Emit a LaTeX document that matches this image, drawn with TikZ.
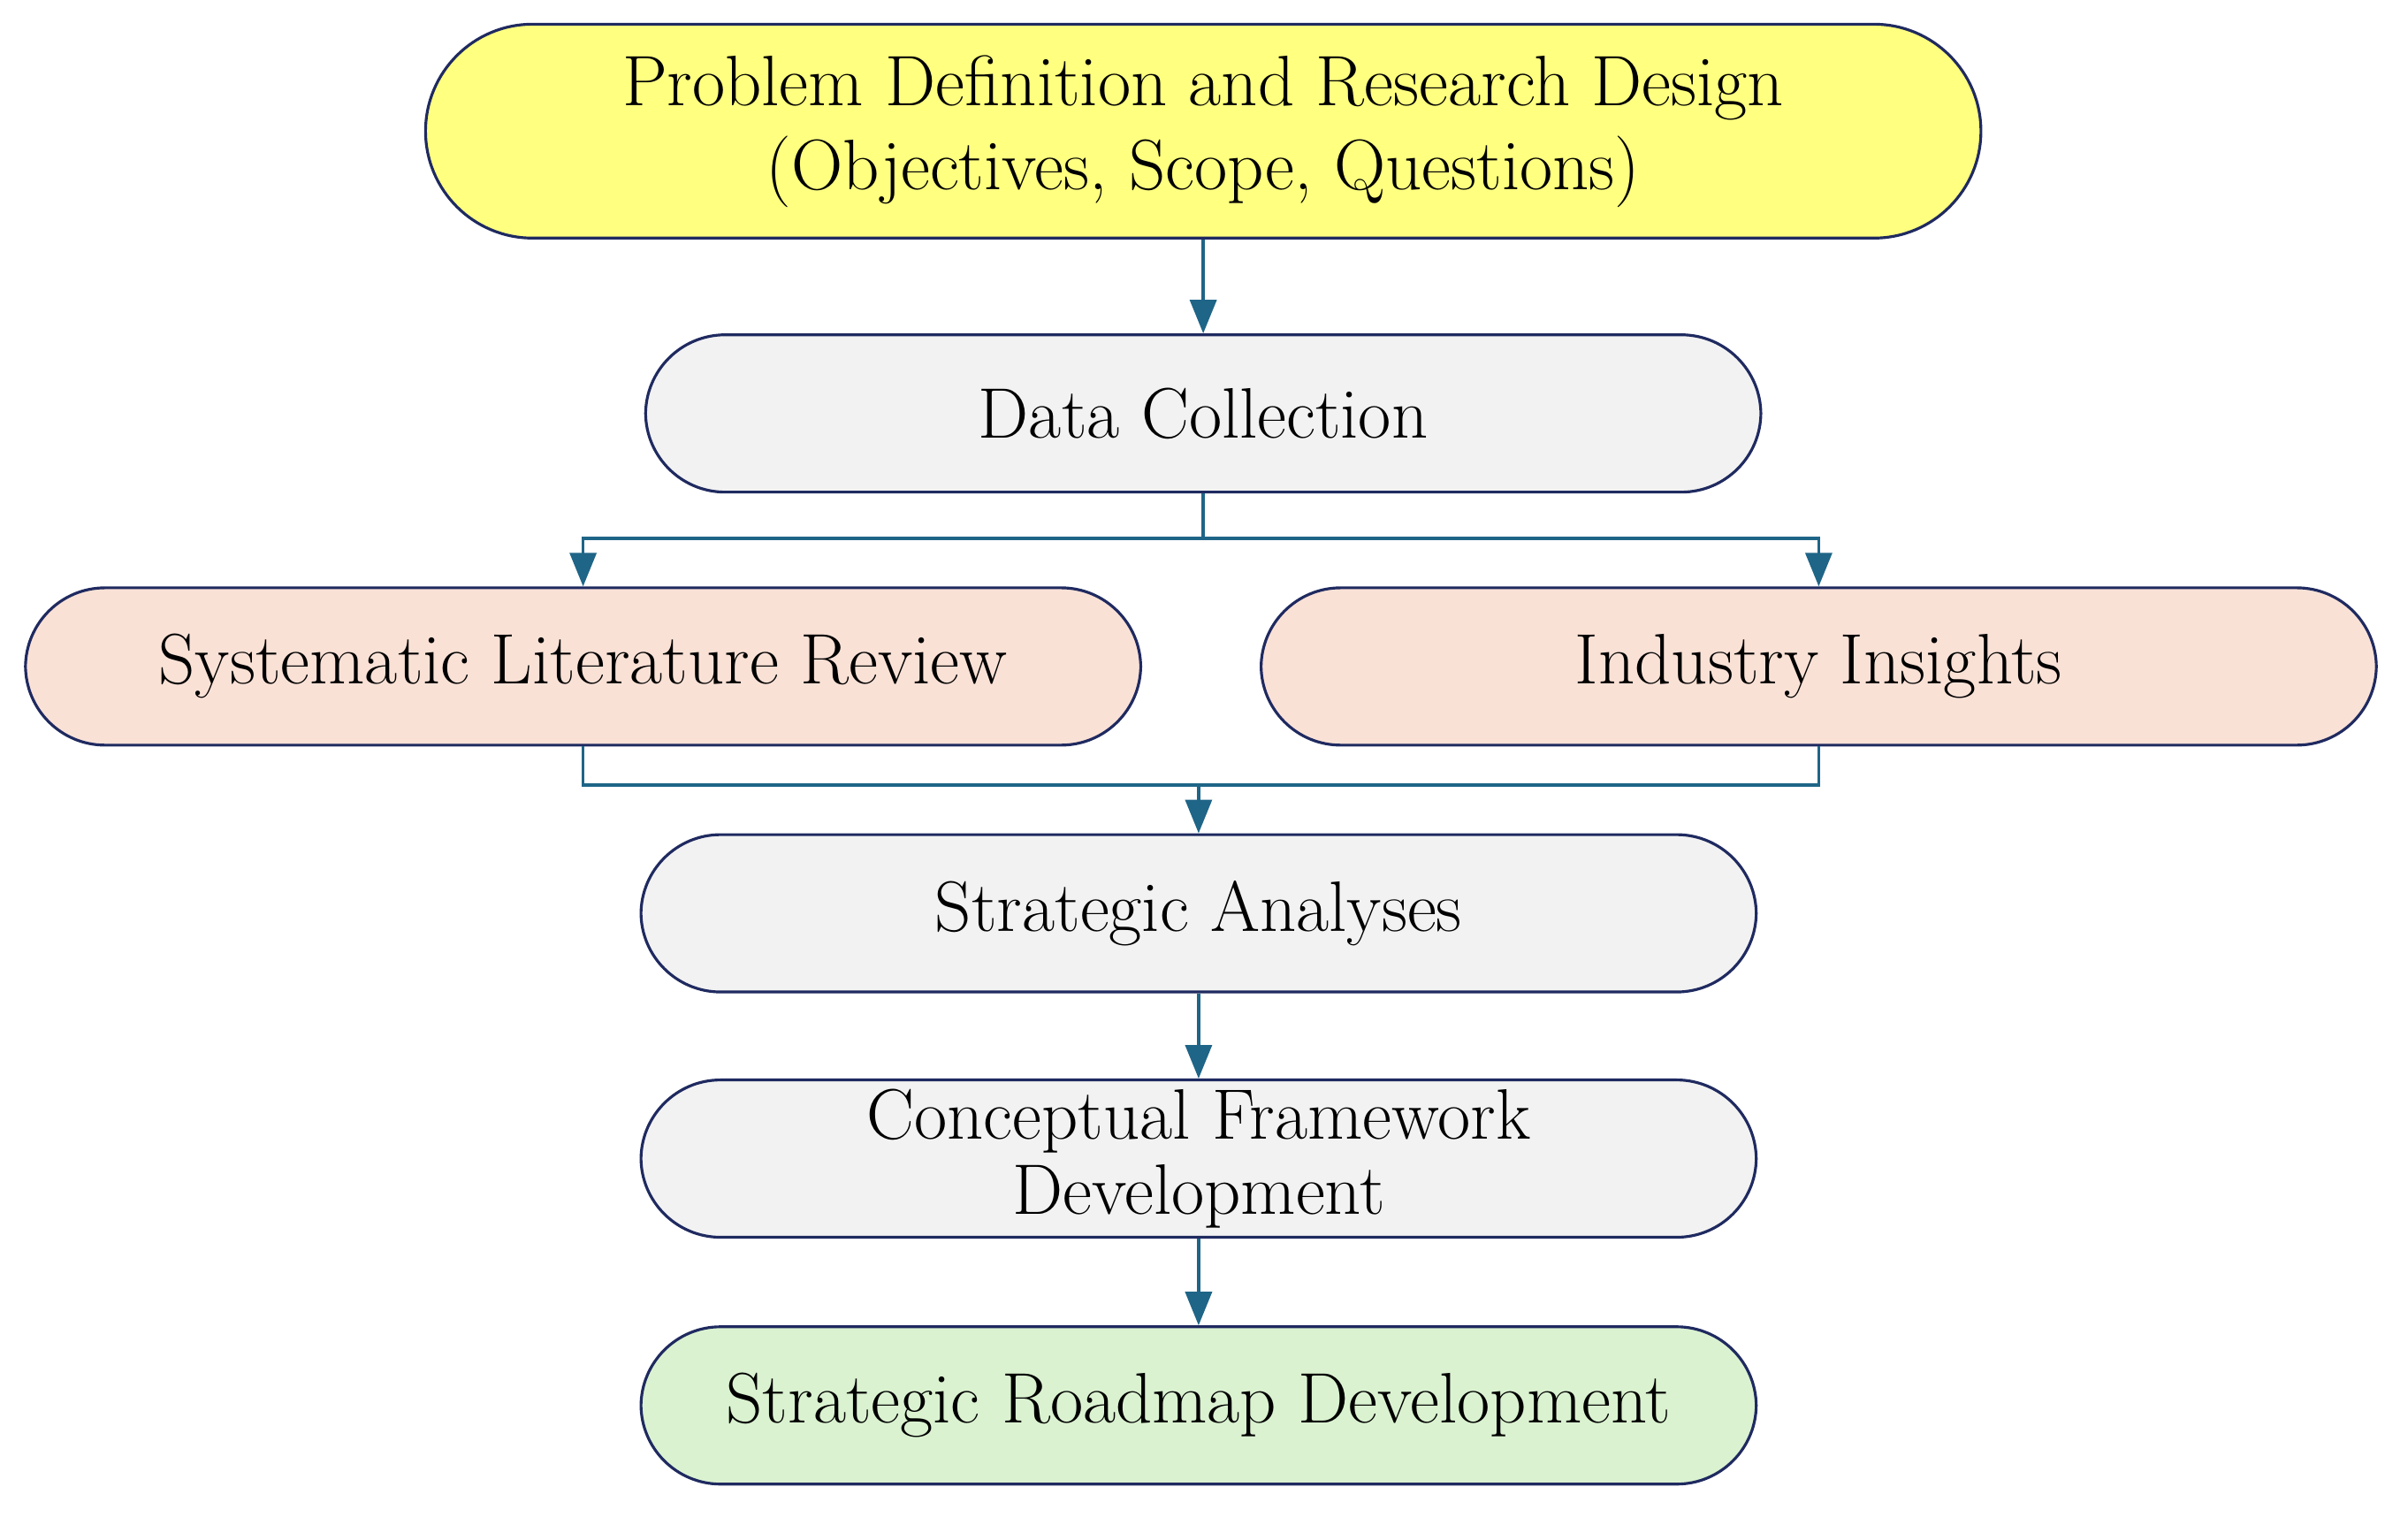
\documentclass[tikz,border=0pt]{standalone}
\usetikzlibrary{arrows.meta}
\definecolor{bd}{HTML}{1F2A60}
\definecolor{ln}{HTML}{1F6587}
\definecolor{cy}{HTML}{FFFF80}
\definecolor{cg}{HTML}{F2F2F2}
\definecolor{cp}{HTML}{FAE1D6}
\definecolor{cgr}{HTML}{DAF2D0}
\begin{document}
\begin{tikzpicture}[x=0.01745cm,y=-0.01745cm,
  box/.style={draw=bd,line width=0.9pt,rounded corners=0.9cm,minimum width=12.62cm,minimum height=1.78cm,align=center,font=\fontsize{23}{25}\selectfont,inner sep=0pt},
  arr/.style={draw=ln,line width=1pt,-{Triangle[length=0.38cm,width=0.3cm]}},
  ln/.style={draw=ln,line width=1pt}]
\useasboundingbox (3,2) rectangle (1564,990);
\node[box,fill=cy,minimum width=17.6cm,minimum height=2.42cm,rounded corners=1.21cm,font=\fontsize{23}{27}\selectfont] (pd) at (783,87) {Problem Definition and Research Design\\(Objectives, Scope, Questions)};
\node[box,fill=cg] (dc) at (783,270) {Data Collection};
\node[box,fill=cp] (slr) at (381,434) {Systematic Literature Review};
\node[box,fill=cp] (ii) at (1182,434) {Industry Insights};
\node[box,fill=cg] (sa) at (780,594) {Strategic Analyses};
\node[box,fill=cg,font=\fontsize{23}{24}\selectfont] (cf) at (780,753) {Conceptual Framework\\Development};
\node[box,fill=cgr] (rm) at (780,913) {Strategic Roadmap Development};
\draw[arr] (pd) -- (dc);
\coordinate (j1) at (783,351);
\coordinate (j2) at (780,511);
\draw[ln] (dc.south) -- (j1);
\draw[arr] (j1) -| (slr.north);
\draw[arr] (j1) -| (ii.north);
\draw[ln] (slr.south) |- (j2);
\draw[ln] (ii.south) |- (j2);
\draw[arr] (j2) -- (sa.north);
\draw[arr] (sa) -- (cf);
\draw[arr] (cf) -- (rm);
\end{tikzpicture}
\end{document}
